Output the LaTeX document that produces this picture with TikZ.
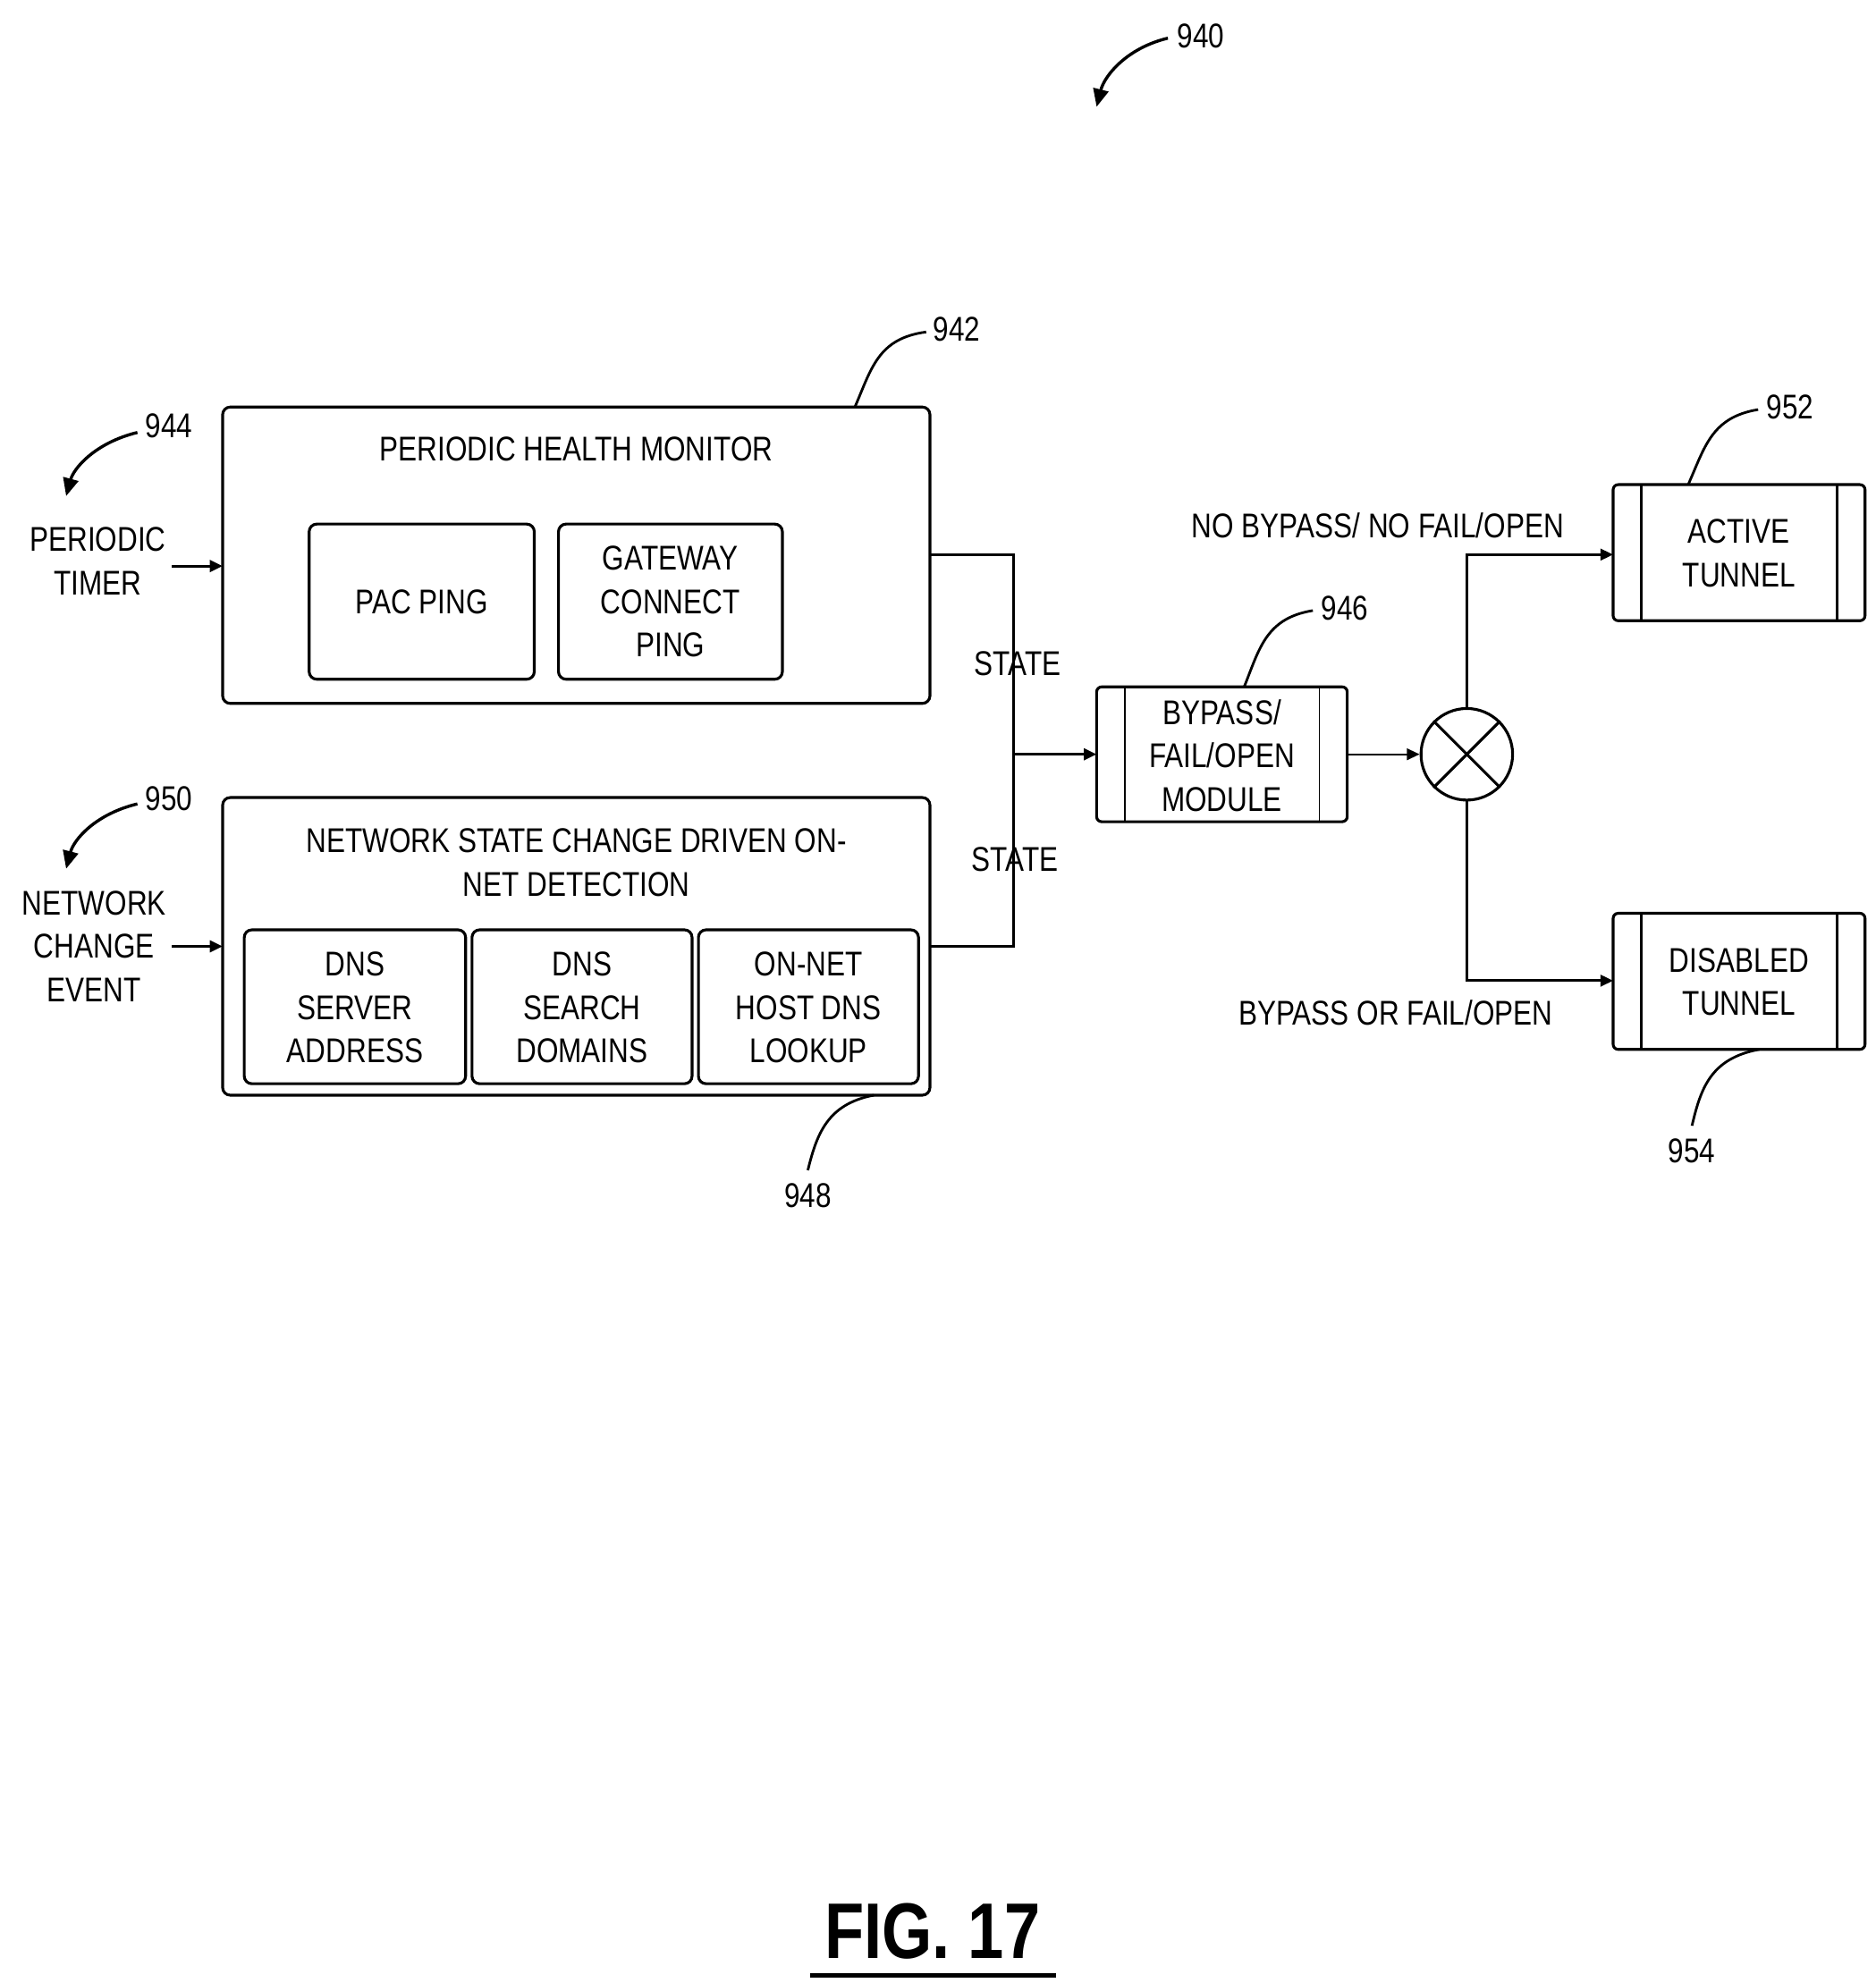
\documentclass[tikz,border=0pt]{standalone}
\usepackage{fontspec}
\setmainfont{Liberation Sans}[FakeStretch=0.82]
\usetikzlibrary{arrows.meta}
\begin{document}
\begin{tikzpicture}[x=1pt,y=-1pt,
  box/.style={draw,line width=2.2pt,rounded corners=6pt},
  lbl/.style={font=\fontsize{27}{34}\selectfont,align=center,inner sep=0pt},
  conn/.style={line width=2.2pt},
  arr/.style={line width=2.2pt,-{Triangle[length=10pt,width=9pt]}},
  lead/.style={line width=2pt},
  refarr/.style={line width=2.4pt,-{Triangle[length=14pt,width=12pt]}}]
\useasboundingbox[fill=white] (0,0) rectangle (1474,1559);
% 942
\draw[box] (175,320) rectangle (731,553);
\node[lbl] (t942) at (453,353) {PERIODIC HEALTH MONITOR};
\draw[box] (243,412) rectangle (420,534); \node[lbl] (pac) at (331.5,473) {PAC PING};
\draw[box] (439,412) rectangle (615,534); \node[lbl] (gw) at (527,473) {GATEWAY\\CONNECT\\PING};
% 948
\draw[box] (175,627) rectangle (731,861);
\node[lbl] (t948) at (453,678) {NETWORK STATE CHANGE DRIVEN ON-\\NET DETECTION};
\draw[box] (192,731) rectangle (366,852); \node[lbl] (d1) at (279,792) {DNS\\SERVER\\ADDRESS};
\draw[box] (371,731) rectangle (544,852); \node[lbl] (d2) at (457.5,792) {DNS\\SEARCH\\DOMAINS};
\draw[box] (549,731) rectangle (722,852); \node[lbl] (d3) at (635.5,792) {ON-NET\\HOST DNS\\LOOKUP};
% connectors
\coordinate (j1) at (731,436); \coordinate (j2) at (731,744); \coordinate (jm) at (797,593);
\draw[conn] (j1) -- (797,436) -- (797,744) -- (j2);
\node[lbl,fill=none] (s1) at (800,522) {STATE};
\node[lbl] (s2) at (798,676) {STATE};
% module
\draw[box,rounded corners=4pt] (862,540) rectangle (1059,646);
\draw[line width=1.2pt] (884,540) -- (884,646) (1037,540) -- (1037,646);
\node[lbl] (mod) at (960.5,594) {BYPASS/\\FAIL/OPEN\\MODULE};
\draw[arr] (jm) -- (862,593);
% circle
\node[draw,circle,line width=2.2pt,minimum size=72pt,inner sep=0pt] (x) at (1153,593) {};
\draw[line width=2.2pt] (x.north west) -- (x.south east) (x.north east) -- (x.south west);
\draw[arr,line width=1.6pt] (1059,593) -- (x.west);
% tunnels
\draw[box,rounded corners=4pt] (1268,381) rectangle (1466,488);
\draw[line width=2.2pt] (1290,381) -- (1290,488) (1444,381) -- (1444,488);
\node[lbl] (act) at (1367,435) {ACTIVE\\TUNNEL};
\draw[box,rounded corners=4pt] (1268,718) rectangle (1466,825);
\draw[line width=2.2pt] (1290,718) -- (1290,825) (1444,718) -- (1444,825);
\node[lbl] (dis) at (1367,772) {DISABLED\\TUNNEL};
\draw[arr] (x.north) -- (1153,436) -- (1268,436);
\draw[arr] (x.south) -- (1153,771) -- (1268,771);
\node[lbl] (nb) at (1083,413) {NO BYPASS/ NO FAIL/OPEN};
\node[lbl] (bf) at (1097,796) {BYPASS OR FAIL/OPEN};
% inputs
\node[lbl] (pt) at (77,441) {PERIODIC\\TIMER};
\draw[arr] (135,445) -- (175,445);
\node[lbl] (nc) at (74,744) {NETWORK\\CHANGE\\EVENT};
\draw[arr] (135,744) -- (175,744);
% refs
\node[lbl] (r940) at (944,28) {940};
\draw[refarr] (918,30) .. controls (885,38) and (868,60) .. (862,84);
\node[lbl] (r944) at (133,335) {944};
\draw[refarr] (108,340) .. controls (75,348) and (58,368) .. (52,390);
\node[lbl] (r950) at (133,628) {950};
\draw[refarr] (108,632) .. controls (75,640) and (58,660) .. (52,683);
\node[lbl] (r942) at (752,259) {942};
\draw[lead] (728,261) .. controls (690,266) and (685,290) .. (672,320);
\node[lbl] (r946) at (1057,478) {946};
\draw[lead] (1032,480) .. controls (995,486) and (990,510) .. (978,540);
\node[lbl] (r952) at (1407,320) {952};
\draw[lead] (1382,322) .. controls (1345,328) and (1340,352) .. (1327,381);
\node[lbl] (r954) at (1330,905) {954};
\draw[lead] (1383,825) .. controls (1345,832) and (1337,855) .. (1330,885);
\node[lbl] (r948) at (635,940) {948};
\draw[lead] (687,861) .. controls (650,868) and (642,892) .. (635,920);
% fig
\node[inner sep=0pt,font=\fontsize{62}{70}\selectfont\bfseries] (fig) at (733,1518) {FIG. 17};
\draw[line width=3pt] (637,1553) -- (830,1553);
\end{tikzpicture}
\end{document}
